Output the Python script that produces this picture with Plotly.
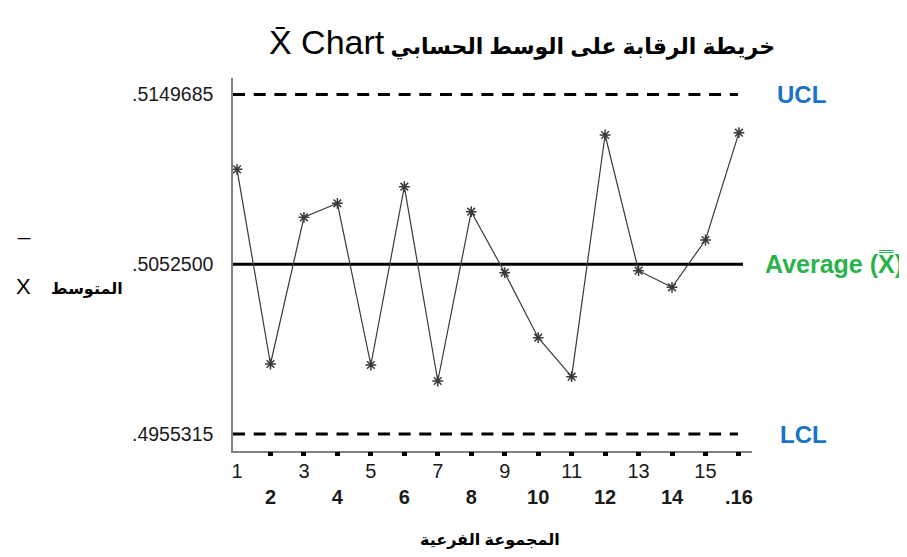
import plotly.graph_objects as go

# ---- data ----
subgroups = list(range(1, 17))
xbar_values = [0.510686, 0.499539, 0.507938, 0.508740, 0.499482, 0.509690,
               0.498566, 0.508259, 0.504766, 0.501045, 0.498812, 0.512650,
               0.504881, 0.503930, 0.506638, 0.512782]
ucl = 0.5149685
center = 0.5052500
lcl = 0.4955315
y_tick_vals = [lcl, center, ucl]
y_tick_text = [".4955315", ".5052500", ".5149685"]
x_tick_text = ["1", "<br><b>2</b>", "3", "<br><b>4</b>", "5", "<br><b>6</b>",
               "7", "<br><b>8</b>", "9", "<br><b>10</b>", "11", "<br><b>12</b>",
               "13", "<br><b>14</b>", "15", "<br><b>.16</b>"]

X_RANGE = [0.88, 16.39]
Y_RANGE = [0.4945582, 0.5159132]

FONT = "Liberation Sans, Arial, DejaVu Sans, sans-serif"

fig = go.Figure()

# control limits
fig.add_trace(go.Scatter(x=[X_RANGE[0], 15.97], y=[ucl, ucl], mode="lines",
                         line=dict(color="black", width=3, dash="12px,8.7px"),
                         hoverinfo="skip", showlegend=False))
fig.add_trace(go.Scatter(x=[X_RANGE[0], 15.97], y=[lcl, lcl], mode="lines",
                         line=dict(color="black", width=3, dash="12px,8.7px"),
                         hoverinfo="skip", showlegend=False))
fig.add_trace(go.Scatter(x=[X_RANGE[0], 16.12], y=[center, center], mode="lines",
                         line=dict(color="black", width=3),
                         hoverinfo="skip", showlegend=False))

# subgroup means
fig.add_trace(go.Scatter(x=subgroups, y=xbar_values, mode="lines+markers",
                         line=dict(color="#3a3a3a", width=1.2),
                         marker=dict(symbol="asterisk-open", size=9,
                                     line=dict(color="black", width=1.5)),
                         showlegend=False))

# squares under the x axis (overlay axis)
fig.add_trace(go.Scatter(x=[None], y=[None], xaxis="x2", showlegend=False,
                         hoverinfo="skip"))

fig.update_layout(
    width=899, height=549,
    paper_bgcolor="white", plot_bgcolor="white",
    margin=dict(l=225, r=155, t=70, b=106),
    font=dict(family=FONT, color="#1a1a1a"),
    xaxis=dict(range=X_RANGE, tickvals=subgroups, ticktext=x_tick_text,
               ticks="", showgrid=False, zeroline=False,
               showline=True, linecolor="#808080", linewidth=1.5,
               tickfont=dict(size=20, family=FONT, color="#1a1a1a"),
               ticklabelstandoff=1),
    xaxis2=dict(range=X_RANGE, overlaying="x", side="bottom", anchor="y",
                tickvals=subgroups[1:], showticklabels=False,
                ticks="outside", ticklen=4, tickwidth=5, tickcolor="black",
                showgrid=False, zeroline=False, showline=False),
    yaxis=dict(range=Y_RANGE, tickvals=y_tick_vals, ticktext=y_tick_text,
               ticks="", showgrid=False, zeroline=False,
               showline=True, linecolor="#808080", linewidth=1.5,
               tickfont=dict(size=19.5, family=FONT, color="#1a1a1a"),
               ticklabelstandoff=14),
    annotations=[
        dict(text="<span style='font-size:34px'>X\u0304 Chart</span> "
                  "<b>خريطة الرقابة على الوسط الحسابي</b>",
             xref="paper", yref="paper", x=0.557, y=1.0, yshift=36,
             xanchor="center", yanchor="middle", showarrow=False,
             font=dict(size=22, family=FONT, color="black")),
        dict(text="<b>UCL</b>", xref="paper", yref="y", x=1.044, y=ucl,
             xanchor="left", yanchor="middle", showarrow=False,
             font=dict(size=24, family=FONT, color="#1a73c8")),
        dict(text="<b>Average (X\u033f)</b>", xref="paper", yref="y", x=1.021,
             y=center, xanchor="left", yanchor="middle", showarrow=False,
             font=dict(size=25, family=FONT, color="#2bb24c")),
        dict(text="<b>LCL</b>", xref="paper", yref="y", x=1.050, y=lcl,
             xanchor="left", yanchor="middle", showarrow=False,
             font=dict(size=24, family=FONT, color="#1a73c8")),
        dict(text="_", xref="paper", yref="paper", x=-0.4027, y=0.560,
             xanchor="center", yanchor="bottom", showarrow=False,
             font=dict(size=22, family=FONT, color="black")),
        dict(text="X", xref="paper", yref="paper", x=-0.4027, y=0.442,
             xanchor="center", yanchor="middle", showarrow=False,
             font=dict(size=22, family=FONT, color="black")),
        dict(text="<b>المتوسط</b>", xref="paper", yref="paper", x=-0.208,
             y=0.434, xanchor="right", yanchor="middle", showarrow=False,
             font=dict(size=16, family=FONT, color="black")),
        dict(text="<b>المجموعة الفرعية</b>", xref="paper", yref="paper",
             x=0.495, y=0, yshift=-89, xanchor="center", yanchor="middle",
             showarrow=False, font=dict(size=16, family=FONT, color="black")),
    ],
)

fig.write_html("out.html")
